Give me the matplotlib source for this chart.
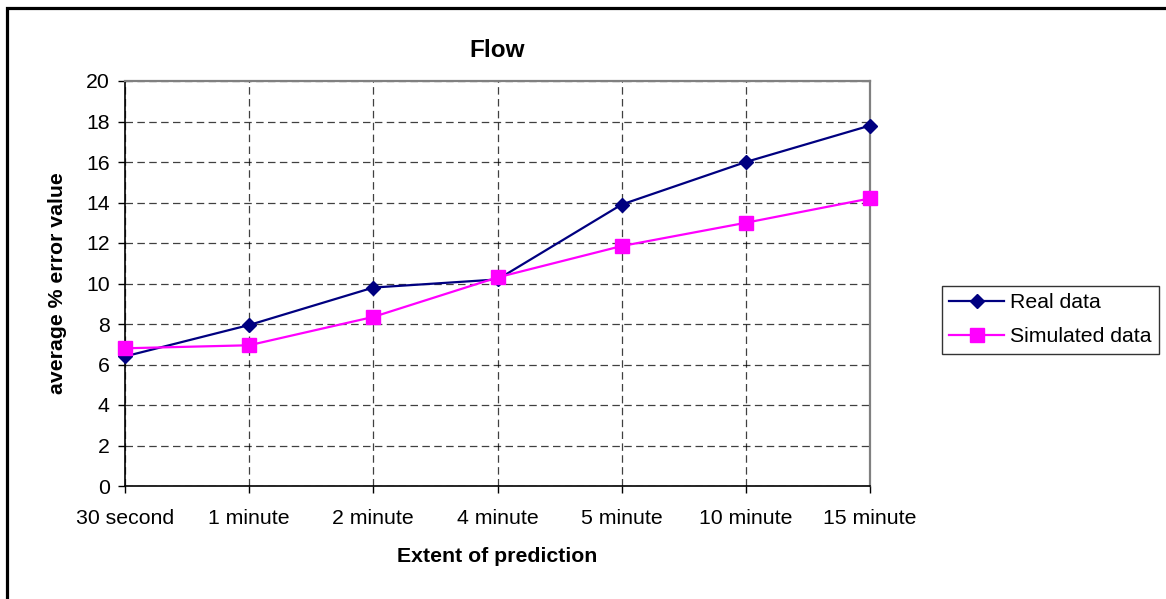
import matplotlib
matplotlib.use("Agg")
import matplotlib.pyplot as plt
from matplotlib.patches import Rectangle

categories = ["30 second", "1 minute", "2 minute", "4 minute", "5 minute", "10 minute", "15 minute"]
real_data = [6.4, 7.95, 9.8, 10.2, 13.9, 16.0, 17.8]
simulated_data = [6.8, 6.95, 8.35, 10.3, 11.85, 13.0, 14.2]

plt.rcParams['font.family'] = ['Liberation Sans', 'DejaVu Sans']

W, H = 1166, 599
FS = 15.3
fig = plt.figure(figsize=(W / 100, H / 100), dpi=100)
fig.patch.set_facecolor('white')
fig.patches.append(Rectangle((6.5 / W, -0.1), 1.2, 1 - 8 / H + 0.1, transform=fig.transFigure,
                             fill=False, edgecolor='black', linewidth=2.3))

ax = fig.add_axes([125 / W, 1 - 486 / H, (870 - 125) / W, (486 - 81) / H])
x = list(range(len(categories)))
ax.plot(x, real_data, color='#000080', marker='D', markersize=7.3, linewidth=1.6,
        label='Real data', clip_on=False, zorder=3)
ax.plot(x, simulated_data, color='#FF00FF', marker='s', markersize=9.5, linewidth=1.6,
        label='Simulated data', clip_on=False, zorder=3)

ax.set_xlim(0, len(categories) - 1)
ax.set_ylim(0, 20)
ax.set_yticks(range(0, 21, 2))
ax.set_xticks(x)
ax.set_xticklabels(categories)
ax.tick_params(axis='both', labelsize=FS, direction='out', length=5, width=1, color='black')
ax.tick_params(axis='x', pad=11.5)
ax.tick_params(axis='y', pad=6)
ax.grid(True, color='black', linestyle=(0, (6, 3.5)), linewidth=0.9, alpha=0.75)
ax.set_axisbelow(True)
for s in ['left', 'bottom']:
    ax.spines[s].set_color('black')
    ax.spines[s].set_linewidth(1.2)
for s in ['top', 'right']:
    ax.spines[s].set_color('#808080')
    ax.spines[s].set_linewidth(1.6)

ax.set_title('Flow', fontsize=17.5, fontweight='bold', pad=17.5)
ax.set_xlabel('Extent of prediction', fontsize=FS, fontweight='bold', labelpad=13.5)
ax.set_ylabel('average % error value', fontsize=FS, fontweight='bold', labelpad=14)

leg = ax.legend(loc='upper left', bbox_to_anchor=(942 / W, 1 - 286 / H), bbox_transform=fig.transFigure,
                fontsize=FS, frameon=True, fancybox=False, edgecolor='black', borderpad=0.35,
                handlelength=2.55, handletextpad=0.28, labelspacing=0.7, borderaxespad=0)
leg.get_frame().set_linewidth(1)

fig.savefig('out.png', dpi=100)
